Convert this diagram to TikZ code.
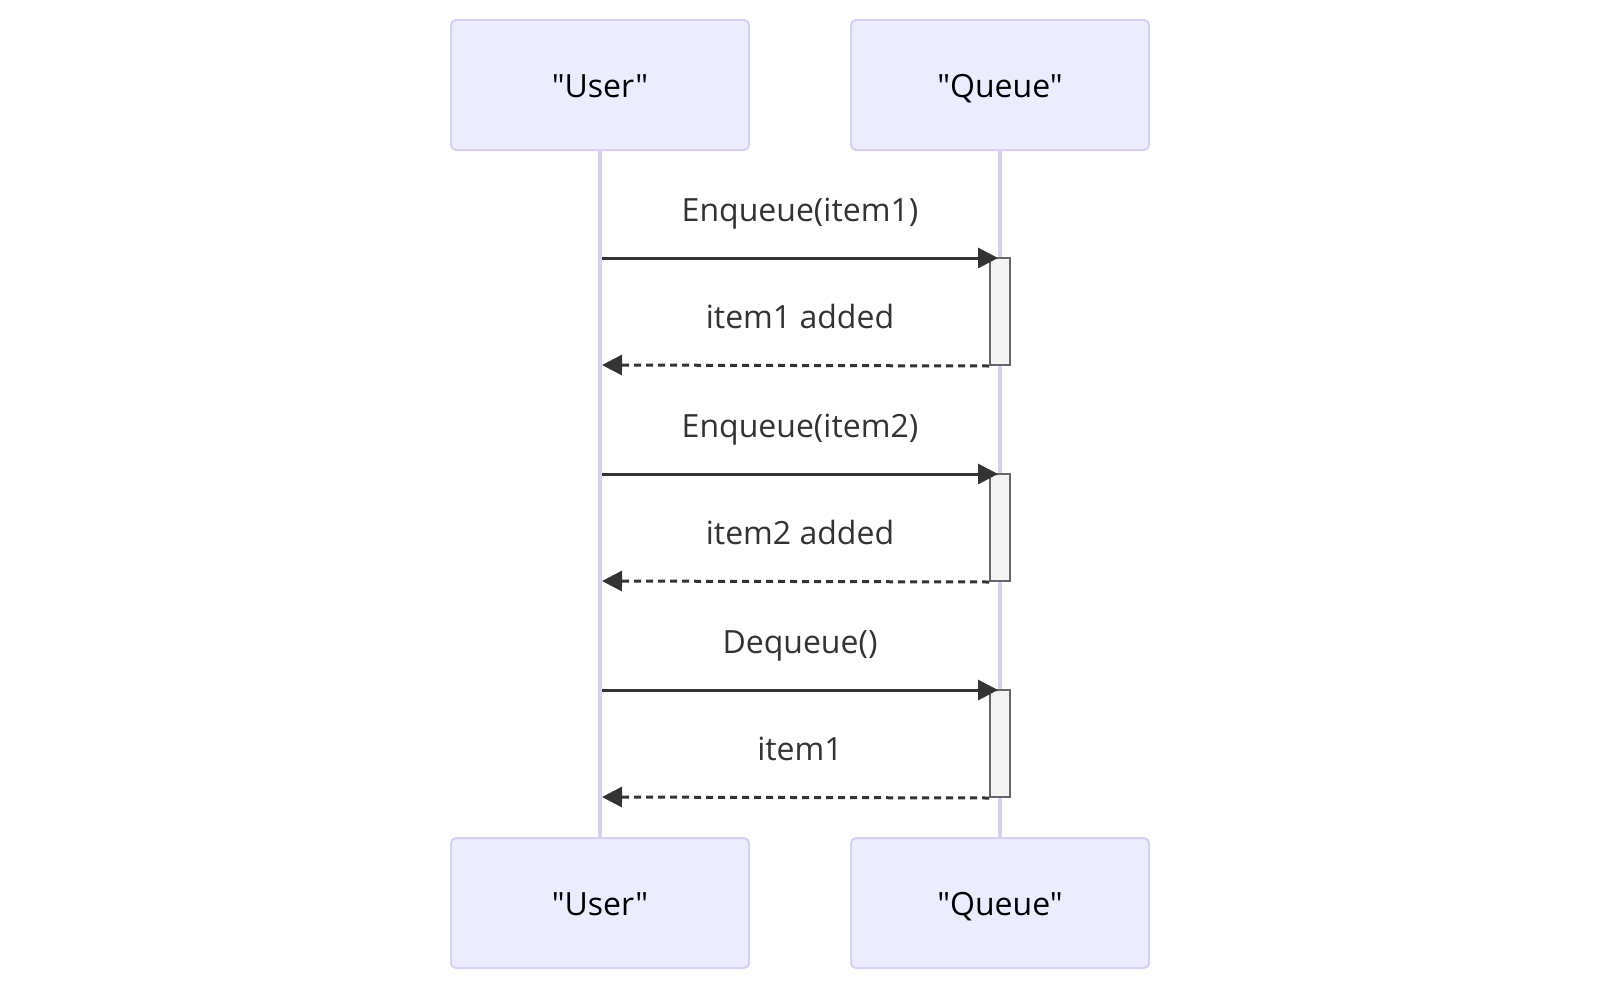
\documentclass[tikz,border=0pt]{standalone}
\usepackage{fontspec}
\setmainfont{Open Sans}[Ligatures=TeXOff]
\usetikzlibrary{arrows.meta,positioning}
\definecolor{actfill}{HTML}{ECECFF}
\definecolor{actline}{HTML}{D8CFF3}
\definecolor{msgcol}{HTML}{333333}
\definecolor{actvfill}{HTML}{F4F4F4}
\definecolor{actvline}{HTML}{666666}
\tikzset{
  actor/.style={draw=actline, fill=actfill, line width=2pt, rounded corners=5pt,
    minimum width=298pt, minimum height=130pt, inner sep=0pt,
    text height=30pt, text depth=6pt,
    font=\fontsize{32}{38}\selectfont, text=black},
  lifeline/.style={draw=actline, line width=4pt},
  msglabel/.style={font=\fontsize{32}{38}\selectfont, text=msgcol, inner sep=0pt,
    text height=24pt, text depth=7pt},
  callmsg/.style={draw=msgcol, line width=3pt, -{Triangle[length=20pt,width=20pt]}},
  retmsg/.style={draw=msgcol, line width=3pt, dash pattern=on 7pt off 5pt, -{Triangle[length=20pt,width=20pt]}},
  activ/.style={draw=actvline, fill=actvfill, line width=2pt, minimum width=20pt,
    minimum height=107pt, inner sep=0pt},
}
\begin{document}
\begin{tikzpicture}[x=1pt,y=-1pt]
\useasboundingbox (0,0) rectangle (1600,990);
% actors
\node[actor] (utop) at (600,85) {"User"};
\node[actor] (qtop) at (1000,85) {"Queue"};
\node[actor] (ubot) at (600,903) {"User"};
\node[actor] (qbot) at (1000,903) {"Queue"};
% lifelines
\draw[lifeline] (utop.south) -- (ubot.north);
\draw[lifeline] (qtop.south) -- (qbot.north);
% activations
\node[activ] (a1) at (1000,311.5) {};
\node[activ] (a2) at (1000,527.5) {};
\node[activ] (a3) at (1000,743.5) {};
% endpoints
\coordinate (u1) at (602,258);
\coordinate (u2) at (602,365);
\coordinate (u3) at (602,474);
\coordinate (u4) at (602,581);
\coordinate (u5) at (602,690);
\coordinate (u6) at (602,797);
\coordinate (q1) at (998,258);
\coordinate (q3) at (998,474);
\coordinate (q5) at (998,690);
% messages
\draw[callmsg] (u1) -- (q1);
\draw[retmsg] (a1.south west) -- (u2);
\draw[callmsg] (u3) -- (q3);
\draw[retmsg] (a2.south west) -- (u4);
\draw[callmsg] (u5) -- (q5);
\draw[retmsg] (a3.south west) -- (u6);
% labels
\node[msglabel] (l1) at (800,213) {Enqueue(item1)};
\node[msglabel] (l2) at (800,320) {item1 added};
\node[msglabel] (l3) at (800,429) {Enqueue(item2)};
\node[msglabel] (l4) at (800,536) {item2 added};
\node[msglabel] (l5) at (800,645) {Dequeue()};
\node[msglabel] (l6) at (800,752) {item1};
\end{tikzpicture}
\end{document}
